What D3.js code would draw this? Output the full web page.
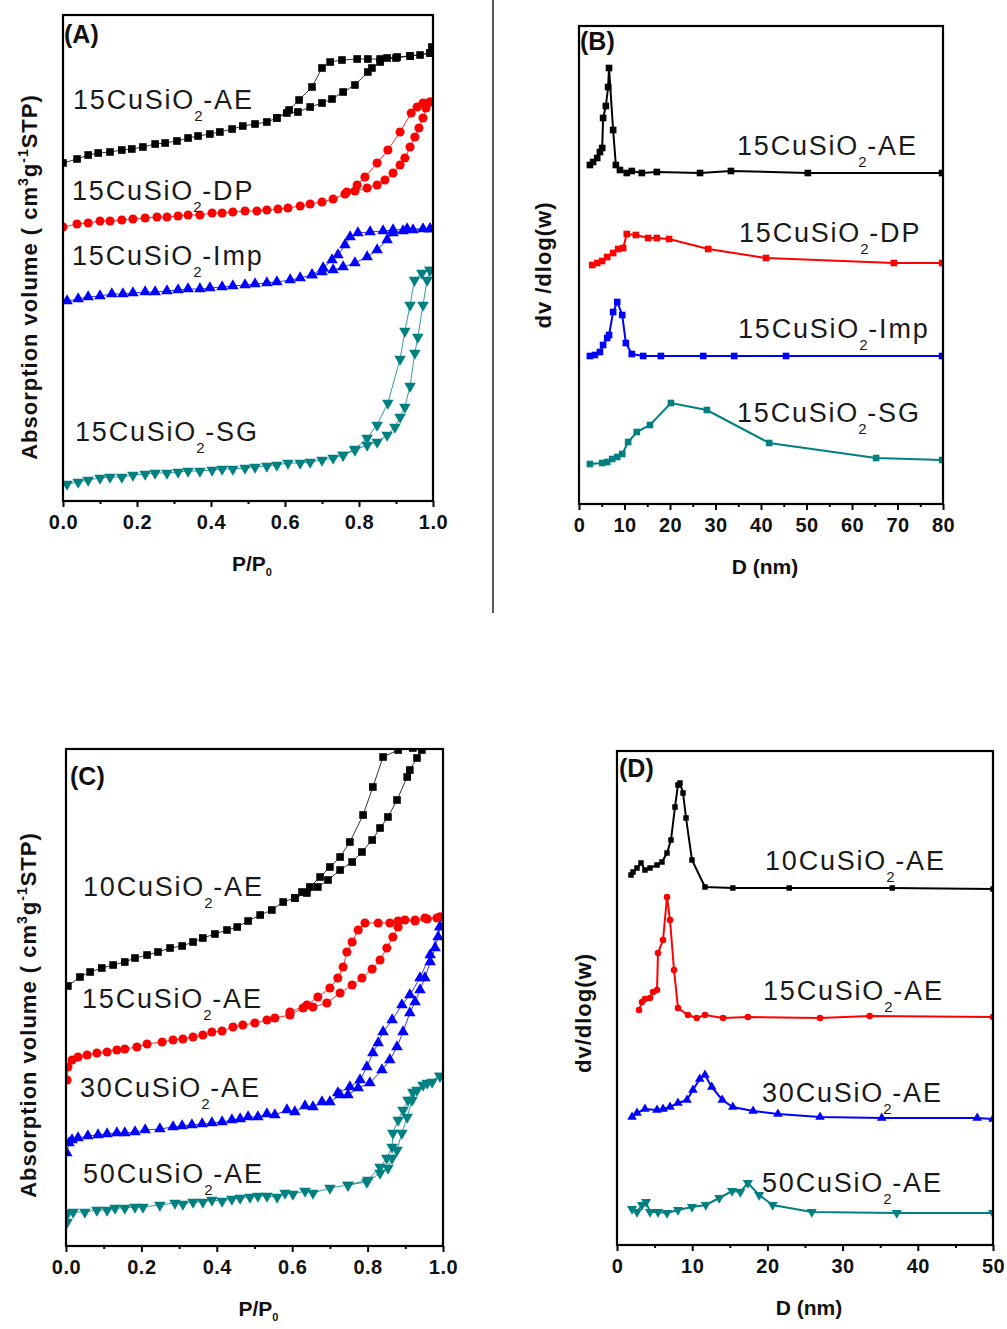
<!DOCTYPE html>
<html lang="en">
<head>
<meta charset="UTF-8">
<title>BET isotherms and pore size distribution</title>
<script src="https://d3js.org/d3.v7.min.js"></script>
<style>
  body { margin: 0; background: #fff; }
  svg text { font-family: "Liberation Sans", Arial, sans-serif; }
</style>
</head>
<body>
<div id="chart"></div>
<script>
// ---- panel (A): isotherms, P/P0 vs adsorbed volume (arbitrary offset units)
const aTicks = [0, 0.2, 0.4, 0.6, 0.8, 1.0];
const aMinor = [0.1, 0.3, 0.5, 0.7, 0.9];

const aAEads = [[0,338],[0.038,342],[0.068,346],[0.095,348],[0.127,349],[0.159,351],[0.186,352],[0.216,354],[0.249,357],[0.276,358],[0.308,360],[0.338,363],[0.365,365],[0.397,367],[0.424,369],[0.457,372],[0.486,375],[0.519,377],[0.551,379],[0.578,383],[0.605,388],[0.635,389],[0.668,394],[0.700,398],[0.727,402],[0.757,409],[0.789,416],[0.824,429],[0.835,433],[0.857,439],[0.876,443],[0.903,444],[0.938,445],[0.965,446],[0.992,448],[0.997,454]];
const aAEdes = [[0.992,448],[0.938,445],[0.900,443],[0.857,442],[0.824,442],[0.795,442],[0.754,441],[0.722,439],[0.700,433],[0.673,414],[0.638,401],[0.611,391],[0.578,383]];

const aDPads = [[0,274],[0.038,277],[0.068,278],[0.100,280],[0.127,280],[0.159,281],[0.189,282],[0.222,283],[0.254,284],[0.281,284],[0.311,285],[0.338,286],[0.370,286],[0.403,288],[0.430,288],[0.459,289],[0.492,290],[0.524,290],[0.551,291],[0.581,292],[0.608,293],[0.641,295],[0.668,297],[0.700,299],[0.730,302],[0.762,307],[0.789,310],[0.822,313],[0.849,316],[0.870,321],[0.892,328],[0.911,336],[0.924,343],[0.938,354],[0.951,364],[0.962,373],[0.973,383],[0.981,393],[0.992,399]];
const aDPdes = [[0.992,399],[0.973,398],[0.957,394],[0.941,388],[0.911,369],[0.878,351],[0.849,338],[0.816,324],[0.795,316],[0.767,309]];

const aImpAds = [[0.011,200],[0.041,202],[0.068,204],[0.100,205],[0.132,207],[0.162,207],[0.189,208],[0.222,209],[0.249,209],[0.281,210],[0.311,211],[0.338,212],[0.370,212],[0.397,213],[0.430,214],[0.459,215],[0.492,216],[0.519,217],[0.551,218],[0.578,219],[0.614,221],[0.641,223],[0.673,226],[0.700,229],[0.730,231],[0.757,234],[0.789,238],[0.822,244],[0.849,251],[0.876,261],[0.892,268],[0.919,270],[0.946,271],[0.973,272],[0.992,272]];
const aImpDes = [[0.992,272],[0.930,272],[0.892,271],[0.865,270],[0.830,269],[0.797,268],[0.776,264],[0.762,256],[0.743,246],[0.727,241],[0.703,233],[0.673,226]];

const aSGads = [[0.011,17],[0.041,19],[0.068,21],[0.100,23],[0.127,24],[0.159,24],[0.189,26],[0.222,27],[0.249,28],[0.281,28],[0.311,29],[0.338,30],[0.370,30],[0.403,31],[0.430,32],[0.459,32],[0.492,33],[0.519,34],[0.551,35],[0.578,36],[0.608,38],[0.641,38],[0.668,39],[0.700,41],[0.730,43],[0.757,46],[0.789,51],[0.822,56],[0.849,59],[0.876,66],[0.897,74],[0.911,84],[0.924,94],[0.938,115],[0.951,148],[0.959,164],[0.973,196],[0.984,221],[0.992,231]];
const aSGdes = [[0.992,231],[0.970,228],[0.950,221],[0.938,196],[0.924,170],[0.911,142],[0.878,98],[0.849,76],[0.822,63],[0.789,52],[0.757,46]];

// ---- panel (B): pore size distribution, D (nm) vs dv/dlog(w)
const bTicks = [0, 10, 20, 30, 40, 50, 60, 70, 80];
const bMinor = [5, 15, 25, 35, 45, 55, 65, 75];

const bAE = [[2.4,339],[3.1,342],[4.0,346],[4.6,352],[5.1,356],[5.3,386],[5.9,398],[6.4,417],[6.6,436],[7.5,374],[8.1,339],[9.0,334],[10.5,331],[11.6,333],[13.8,331],[17.1,332],[26.6,331],[33.4,333],[50.3,331],[79.8,331]];
const bDP = [[2.9,239],[4.0,241],[5.1,243],[6.2,247],[7.5,251],[8.6,255],[9.7,256],[10.5,270],[12.5,269],[15.2,266],[17.1,266],[19.8,265],[28.4,255],[41.1,246],[69.2,241],[79.8,241]];
const bImp = [[2.4,148],[3.5,149],[4.6,152],[5.3,159],[6.2,166],[6.6,169],[7.5,192],[8.4,202],[9.5,189],[10.3,161],[11.6,150],[14.1,148],[18.0,148],[27.3,148],[34.1,148],[45.5,148],[79.8,148]];
const bSG = [[2.4,40],[5.1,41],[6.2,42],[7.3,45],[8.4,47],[9.5,50],[10.8,62],[12.7,72],[15.6,79],[20.2,101],[28.1,94],[41.8,61],[65.3,46],[79.8,44]];

// ---- panel (C): isotherms of xCuSiO2-AE
const c10ads = [[0.005,260],[0.037,269],[0.064,274],[0.095,278],[0.125,281],[0.156,284],[0.183,288],[0.215,291],[0.244,294],[0.276,298],[0.308,300],[0.337,304],[0.363,308],[0.395,312],[0.427,316],[0.454,319],[0.483,325],[0.515,331],[0.546,336],[0.576,344],[0.607,348],[0.639,353],[0.668,359],[0.695,366],[0.727,376],[0.759,384],[0.785,394],[0.812,406],[0.833,418],[0.854,429],[0.878,446],[0.905,469],[0.912,476],[0.931,488],[0.944,496],[0.966,510]];
const c10des = [[0.980,505],[0.920,498],[0.881,496],[0.841,489],[0.814,459],[0.788,431],[0.753,404],[0.727,389],[0.700,379],[0.674,369],[0.647,359],[0.626,354],[0.607,348]];

const c15ads = [[0.003,166],[0.005,179],[0.016,186],[0.032,189],[0.056,191],[0.082,193],[0.109,194],[0.135,196],[0.156,197],[0.188,199],[0.215,202],[0.255,204],[0.284,206],[0.310,207],[0.337,209],[0.363,211],[0.387,214],[0.414,215],[0.443,219],[0.469,221],[0.501,223],[0.533,226],[0.554,228],[0.594,231],[0.629,238],[0.655,239],[0.692,243],[0.727,253],[0.759,261],[0.785,268],[0.812,277],[0.833,286],[0.851,298],[0.867,309],[0.881,319],[0.899,326],[0.926,326],[0.952,328],[0.984,328],[0.992,329]];
const c15des = [[0.992,329],[0.958,327],[0.926,325],[0.881,325],[0.859,323],[0.828,323],[0.793,323],[0.775,316],[0.759,304],[0.745,294],[0.735,279],[0.721,268],[0.700,258],[0.668,249],[0.639,241],[0.594,234]];

const c30ads = [[0.002,93],[0.008,103],[0.016,106],[0.032,108],[0.058,110],[0.085,111],[0.109,112],[0.135,113],[0.156,113],[0.183,114],[0.210,116],[0.249,117],[0.284,119],[0.308,120],[0.334,121],[0.361,122],[0.387,123],[0.414,124],[0.440,126],[0.462,127],[0.483,129],[0.509,129],[0.533,132],[0.554,131],[0.586,136],[0.607,134],[0.634,140],[0.655,139],[0.679,144],[0.700,144],[0.727,151],[0.748,151],[0.775,158],[0.806,163],[0.838,176],[0.859,186],[0.878,199],[0.894,214],[0.912,233],[0.926,244],[0.939,256],[0.952,268],[0.966,284],[0.979,298],[0.987,309],[0.992,319]];
const c30des = [[0.992,319],[0.966,291],[0.939,268],[0.912,251],[0.891,241],[0.865,226],[0.841,214],[0.828,203],[0.814,193],[0.798,179],[0.780,166],[0.753,159],[0.721,153]];

const c50ads = [[0.003,24],[0.005,33],[0.019,34],[0.050,34],[0.082,36],[0.109,36],[0.130,38],[0.156,38],[0.183,39],[0.204,39],[0.249,41],[0.289,43],[0.310,42],[0.337,44],[0.363,44],[0.387,46],[0.414,45],[0.440,47],[0.462,48],[0.488,49],[0.509,50],[0.533,50],[0.560,49],[0.581,53],[0.602,52],[0.634,55],[0.655,53],[0.700,58],[0.748,61],[0.798,64],[0.833,73],[0.854,78],[0.865,88],[0.878,96],[0.891,113],[0.905,129],[0.918,146],[0.931,156],[0.947,161],[0.971,164],[0.992,170]];
const c50des = [[0.992,170],[0.958,163],[0.920,154],[0.907,146],[0.894,136],[0.881,126],[0.867,113],[0.865,99],[0.851,88],[0.833,79],[0.801,66],[0.748,61]];

// ---- panel (D): pore size distribution of xCuSiO2-AE
const dTicks = [0, 10, 20, 30, 40, 50];
const dMinor = [5, 15, 25, 35, 45];

const d10 = [[1.86,370],[2.13,373],[2.66,377],[3.19,382],[3.72,375],[4.39,377],[5.32,380],[5.98,383],[6.65,392],[7.18,405],[7.71,438],[8.11,460],[8.38,462],[8.78,452],[9.18,427],[9.97,385],[11.7,358],[15.4,357],[22.9,357],[36.6,357],[50,356]];
const d15 = [[2.93,235],[3.32,243],[3.72,246],[4.39,247],[4.79,253],[5.32,255],[5.45,292],[6.12,305],[6.65,348],[7.05,325],[7.58,275],[8.11,237],[9.44,230],[10.6,227],[11.7,230],[14.1,227],[17.4,228],[27.0,227],[33.6,229],[50,228]];
const d30 = [[2.0,128],[2.66,132],[3.72,136],[5.32,135],[6.12,136],[7.05,138],[8.11,142],[9.31,145],[10.1,155],[11.0,166],[11.7,170],[12.6,158],[14.0,145],[15.4,138],[18.1,134],[21.4,131],[27.0,128],[35.2,127],[47.9,127],[50,126]];
const d50 = [[2.0,36],[2.66,33],[3.32,40],[3.86,43],[4.39,33],[5.45,33],[6.65,32],[8.11,35],[9.97,38],[11.8,40],[13.6,47],[15.3,54],[16.4,53],[17.4,62],[18.9,50],[20.7,40],[25.9,33],[37.2,32],[50,32]];

const BLACK = "#000000", RED = "#ff0000", BLUE = "#0000ff", TEAL = "#008080";

const svg = d3.select("#chart").append("svg")
  .attr("width", 1007).attr("height", 1329);

// divider between (A) and (B)
svg.append("line").attr("x1", 493).attr("x2", 493).attr("y1", 0).attr("y2", 613)
  .attr("stroke", "#000").attr("stroke-width", 1.3);

const panels = [
  { id: "A", box: {l: 63, r: 433, t: 15, b: 501}, xd: [0, 1], yd: [0, 486],
    ticks: aTicks, minor: aMinor, fmt: d3.format(".1f"), lw: 0.8,
    xlab: ["P/P", "0"], ylab: "abs", ylabPos: [37, 277],
    titlePos: [64, 43],
    series: [
      {pts: aAEads.concat(aAEdes), color: BLACK, sym: "sq", size: 58},
      {pts: aDPads.concat(aDPdes), color: RED, sym: "ci", size: 65},
      {pts: aImpAds.concat(aImpDes), color: BLUE, sym: "up", size: 58},
      {pts: aSGads.concat(aSGdes), color: TEAL, sym: "dn", size: 58}],
    labels: [["15CuSiO", "-AE", 73, 109], ["15CuSiO", "-DP", 72, 200], ["15CuSiO", "-Imp", 72, 265], ["15CuSiO", "-SG", 75, 441]] },
  { id: "B", box: {l: 579, r: 943, t: 26, b: 504}, xd: [0, 80], yd: [0, 478],
    ticks: bTicks, minor: bMinor, fmt: d3.format("d"), lw: 2,
    xlab: ["D (nm)"], ylab: "dv /dlog(w)", ylabPos: [551, 265],
    titlePos: [580, 50],
    series: [
      {pts: bAE, color: BLACK, sym: "sq", size: 44},
      {pts: bDP, color: RED, sym: "sq", size: 44},
      {pts: bImp, color: BLUE, sym: "sq", size: 44},
      {pts: bSG, color: TEAL, sym: "sq", size: 44}],
    labels: [["15CuSiO", "-AE", 737, 155], ["15CuSiO", "-DP", 739, 242], ["15CuSiO", "-Imp", 738, 338], ["15CuSiO", "-SG", 737, 422]] },
  { id: "C", box: {l: 66, r: 443, t: 749, b: 1246}, xd: [0, 1], yd: [0, 497],
    ticks: aTicks, minor: aMinor, fmt: d3.format(".1f"), lw: 0.8,
    xlab: ["P/P", "0"], ylab: "abs", ylabPos: [36, 1015],
    titlePos: [70, 785],
    series: [
      {pts: c10ads.concat(c10des), color: BLACK, sym: "sq", size: 58},
      {pts: c15ads.concat(c15des), color: RED, sym: "ci", size: 65},
      {pts: c30ads.concat(c30des), color: BLUE, sym: "up", size: 58},
      {pts: c50ads.concat(c50des), color: TEAL, sym: "dn", size: 58}],
    labels: [["10CuSiO", "-AE", 83, 896], ["15CuSiO", "-AE", 82, 1008], ["30CuSiO", "-AE", 80, 1097], ["50CuSiO", "-AE", 83, 1183]] },
  { id: "D", box: {l: 617, r: 993, t: 751, b: 1245}, xd: [0, 50], yd: [0, 494],
    ticks: dTicks, minor: dMinor, fmt: d3.format("d"), lw: 2,
    xlab: ["D (nm)"], ylab: "dv/dlog(w)", ylabPos: [591, 1013],
    titlePos: [619, 777],
    series: [
      {pts: d10, color: BLACK, sym: "sq", size: 30},
      {pts: d15, color: RED, sym: "ci", size: 34},
      {pts: d30, color: BLUE, sym: "up", size: 40},
      {pts: d50, color: TEAL, sym: "dn", size: 44}],
    labels: [["10CuSiO", "-AE", 765, 870], ["15CuSiO", "-AE", 763, 1000], ["30CuSiO", "-AE", 762, 1102], ["50CuSiO", "-AE", 762, 1192]] }
];

const symType = {sq: d3.symbolSquare, ci: d3.symbolCircle, up: d3.symbolTriangle, dn: d3.symbolTriangle};

panels.forEach(p => {
  const g = svg.append("g");
  const x = d3.scaleLinear().domain(p.xd).range([p.box.l, p.box.r]);
  const y = d3.scaleLinear().domain(p.yd).range([p.box.b, p.box.t]);

  const clipId = "clip" + p.id;
  g.append("clipPath").attr("id", clipId).append("rect")
    .attr("x", p.box.l).attr("y", p.box.t)
    .attr("width", p.box.r - p.box.l).attr("height", p.box.b - p.box.t);
  const plot = g.append("g").attr("clip-path", "url(#" + clipId + ")");

  const line = d3.line().x(d => x(d[0])).y(d => y(d[1]));
  p.series.forEach(s => {
    plot.append("path").datum(s.pts).attr("d", line)
      .attr("fill", "none").attr("stroke", s.color).attr("stroke-width", p.lw);
    const sym = d3.symbol().type(symType[s.sym]).size(s.size);
    plot.append("g").selectAll("path").data(s.pts).join("path")
      .attr("d", sym)
      .attr("transform", d => "translate(" + x(d[0]) + "," + y(d[1]) + ")" + (s.sym === "dn" ? " rotate(180)" : ""))
      .attr("fill", s.color);
  });

  // frame
  g.append("rect").attr("x", p.box.l).attr("y", p.box.t)
    .attr("width", p.box.r - p.box.l).attr("height", p.box.b - p.box.t)
    .attr("fill", "none").attr("stroke", "#000").attr("stroke-width", 2.2);

  // bottom axis
  const ax = d3.axisBottom(x).tickValues(p.ticks).tickFormat(p.fmt).tickSize(6).tickPadding(8);
  const axg = g.append("g").attr("transform", "translate(0," + p.box.b + ")").call(ax);
  axg.select(".domain").remove();
  axg.selectAll(".tick line").attr("stroke-width", 2);
  axg.selectAll(".tick text")
    .attr("font-family", "Liberation Sans, Arial, sans-serif")
    .attr("font-size", 20).attr("font-weight", "bold").attr("letter-spacing", 0.5).attr("fill", "#111");
  const mx = d3.axisBottom(x).tickValues(p.minor).tickFormat("").tickSize(3);
  const mg = g.append("g").attr("transform", "translate(0," + p.box.b + ")").call(mx);
  mg.select(".domain").remove();
  mg.selectAll(".tick line").attr("stroke-width", 2);

  // x title
  const xt = g.append("text")
    .attr("x", (p.box.l + p.box.r) / 2 + 4).attr("y", p.box.b + 70)
    .attr("text-anchor", "middle").attr("font-size", 21).attr("font-weight", "bold").attr("fill", "#111");
  xt.append("tspan").text(p.xlab[0]);
  if (p.xlab[1]) xt.append("tspan").attr("font-size", 11).attr("dy", 5).text(p.xlab[1]);

  // y title
  const yt = g.append("text")
    .attr("transform", "translate(" + p.ylabPos[0] + "," + p.ylabPos[1] + ") rotate(-90)")
    .attr("text-anchor", "middle").attr("font-size", 22).attr("font-weight", "bold")
    .attr("letter-spacing", 1).attr("fill", "#111");
  if (p.ylab === "abs") {
    yt.append("tspan").text("Absorption volume ( cm");
    yt.append("tspan").attr("font-size", 14).attr("dy", -9).text("3");
    yt.append("tspan").attr("dy", 9).text("g");
    yt.append("tspan").attr("font-size", 14).attr("dy", -9).text("-1");
    yt.append("tspan").attr("dy", 9).text("STP)");
  } else {
    yt.text(p.ylab);
  }

  // panel tag
  g.append("text").attr("x", p.titlePos[0]).attr("y", p.titlePos[1])
    .attr("font-size", 25).attr("font-weight", "bold").attr("fill", "#111").text("(" + p.id + ")");

  // series labels
  p.labels.forEach(l => {
    const t = g.append("text").attr("x", l[2]).attr("y", l[3])
      .attr("font-size", 27).attr("letter-spacing", 1.8).attr("fill", "#1a1a1a");
    t.append("tspan").text(l[0]);
    t.append("tspan").attr("font-size", 15).attr("dy", 12).attr("dx", -1).text("2");
    t.append("tspan").attr("dy", -12).attr("dx", -1).text(l[1]);
  });
});
</script>
</body>
</html>
